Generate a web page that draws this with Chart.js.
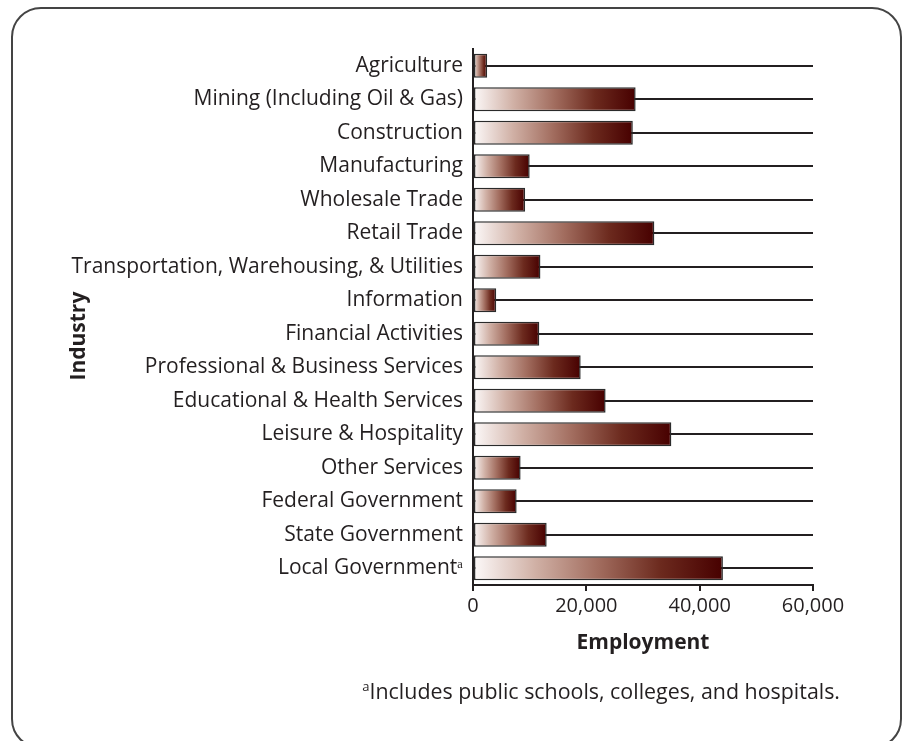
<!DOCTYPE html>
<html lang="en">
<head>
  <meta charset="UTF-8">
  <title>Employment by Industry</title>
  <style>
    body {
      margin: 0;
      background: #fff;
      font-family: "Open Sans", sans-serif;
      color: #231f20;
      overflow: hidden;
    }

    .card {
      position: absolute;
      left: 11px;
      top: 7px;
      width: 891px;
      height: 742px;
      border: 2px solid #444;
      border-radius: 30px;
      box-sizing: border-box;
    }

    #chart {
      position: absolute;
      left: 0;
      top: 0;
    }

    .note {
      position: absolute;
      right: 66px;
      top: 676px;
      font-size: 21.4px;
      white-space: nowrap;
    }

    .note sup {
      font-size: 13px;
      vertical-align: 8px;
    }
  </style>
</head>
<body>
<div class="card"></div>
<canvas id="chart" width="906" height="741"></canvas>
<div class="note"><sup>a</sup>Includes public schools, colleges, and hospitals.</div>

<script src="https://cdn.jsdelivr.net/npm/chart.js"></script>
<script>
  const industries = [
    'Agriculture',
    'Mining (Including Oil & Gas)',
    'Construction',
    'Manufacturing',
    'Wholesale Trade',
    'Retail Trade',
    'Transportation, Warehousing, & Utilities',
    'Information',
    'Financial Activities',
    'Professional & Business Services',
    'Educational & Health Services',
    'Leisure & Hospitality',
    'Other Services',
    'Federal Government',
    'State Government',
    'Local Government\u1d43'
  ];
  const employment = [2500, 28700, 28200, 10000, 9200, 32000, 11900, 4100,
                      11700, 19000, 23400, 35000, 8400, 7700, 13000, 44100];
  const xTicks = [0, 20000, 40000, 60000];

  const ink = '#231f20';

  // each bar runs light -> dark maroon over its own length
  function barGradient(context) {
    const chart = context.chart;
    if (!chart.chartArea) return '#8a4a3e';
    const x = chart.scales.x;
    const x0 = x.getPixelForValue(0);
    const x1 = x.getPixelForValue(context.raw);
    const g = chart.ctx.createLinearGradient(x0, 0, Math.max(x1, x0 + 1), 0);
    g.addColorStop(0, '#fdfafa');
    g.addColorStop(0.25, '#d0b0a5');
    g.addColorStop(0.5, '#a26d5f');
    g.addColorStop(0.75, '#6c2a1e');
    g.addColorStop(1, '#470000');
    return g;
  }

  new Chart(document.getElementById('chart'), {
    type: 'bar',
    data: {
      labels: industries,
      datasets: [{
        label: 'Employment',
        data: employment,
        backgroundColor: barGradient,
        borderColor: '#2b2b2b',
        borderWidth: 1.5,
        borderSkipped: false,
        barPercentage: 0.72,
        categoryPercentage: 1
      }]
    },
    options: {
      indexAxis: 'y',
      responsive: false,
      animation: false,
      layout: {
        padding: { top: 49, right: 93, bottom: 0, left: 60 }
      },
      plugins: {
        legend: { display: false },
        tooltip: { enabled: false }
      },
      scales: {
        x: {
          min: 0,
          max: 60000,
          afterBuildTicks: (scale) => {
            scale.ticks = xTicks.map(v => ({ value: v }));
          },
          afterFit: (scale) => { scale.height = 156; },
          grid: {
            drawOnChartArea: false,
            drawTicks: true,
            tickLength: 6,
            color: ink,
            lineWidth: 2
          },
          border: { color: ink, width: 2 },
          ticks: {
            color: ink,
            padding: 3,
            font: { family: 'Open Sans', size: 20 },
            callback: (v) => v.toLocaleString('en-US')
          },
          title: {
            display: true,
            text: 'Employment',
            color: ink,
            font: { family: 'Open Sans', size: 21, weight: 'bold' },
            padding: { top: 4, bottom: 85 }
          }
        },
        y: {
          afterFit: (scale) => { scale.width = 413; },
          grid: {
            offset: false,
            drawTicks: false,
            color: ink,
            lineWidth: 2
          },
          border: { color: ink, width: 2 },
          ticks: {
            color: ink,
            padding: 10,
            font: { family: 'Open Sans', size: 21 }
          },
          title: {
            display: true,
            // trailing spaces nudge the rotated title down, below the long label
            text: 'Industry\u00a0\u00a0\u00a0\u00a0\u00a0\u00a0\u00a0',
            color: ink,
            font: { family: 'Open Sans', size: 21, weight: 'bold' },
            padding: { top: 6, bottom: 4 }
          }
        }
      }
    }
  });
</script>
</body>
</html>
